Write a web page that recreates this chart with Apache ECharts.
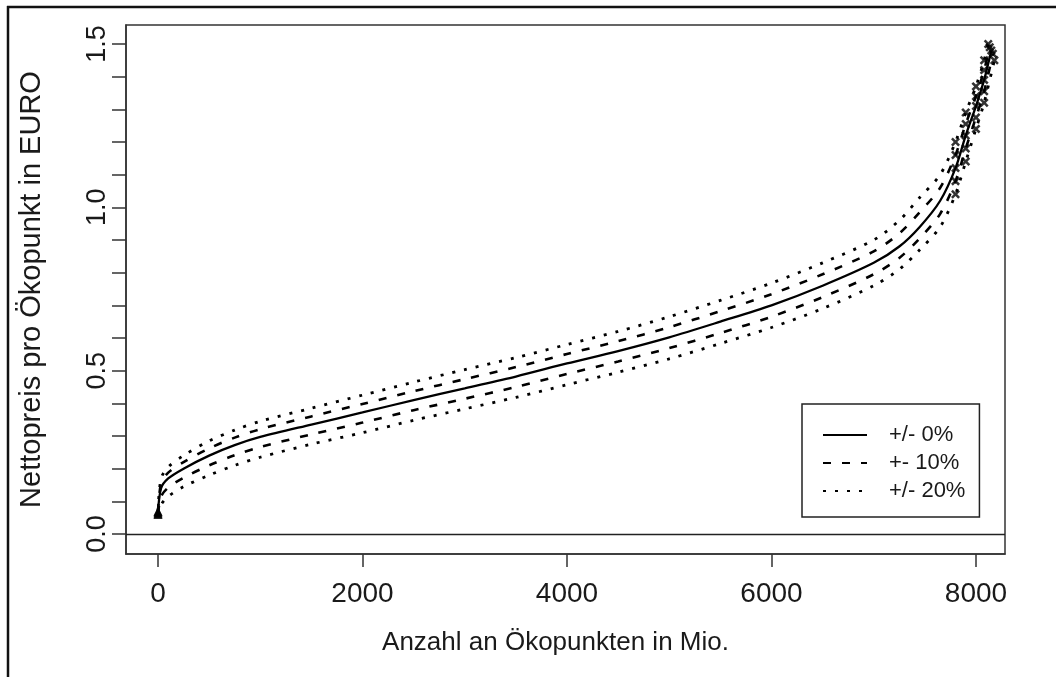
<!DOCTYPE html>
<html>
<head>
<meta charset="utf-8">
<script src="https://cdn.jsdelivr.net/npm/echarts@6/dist/echarts.min.js"></script>
<style>
html,body{margin:0;padding:0;background:#fff;}
#chart{width:1056px;height:677px;}
</style>
</head>
<body>
<div id="chart"></div>
<script>
// ---- data ----
const xTitle = 'Anzahl an Ökopunkten in Mio.';
const yTitle = 'Nettopreis pro Ökopunkt in EURO';
const xTicks = [0, 2000, 4000, 6000, 8000];
const yTicks = [0, 0.1, 0.2, 0.3, 0.4, 0.5, 0.6, 0.7, 0.8, 0.9, 1.0, 1.1, 1.2, 1.3, 1.4, 1.5];
const yLabels = [0, 0.5, 1.0, 1.5];
const legendNames = ['+/- 0%', '+- 10%', '+/- 20%'];

// solid: +/- 0%
const xMid  = [0, 30, 100, 250, 500, 750, 1000, 1500, 2000, 2500, 3000, 3500, 4000, 4500, 5000, 5500, 6000, 6500, 7000, 7250, 7450, 7650, 7800, 7900, 8000, 8080, 8150];
const yMid  = [0.065, 0.14, 0.17, 0.20, 0.24, 0.272, 0.297, 0.335, 0.372, 0.41, 0.446, 0.482, 0.522, 0.56, 0.602, 0.65, 0.70, 0.76, 0.83, 0.88, 0.94, 1.02, 1.12, 1.22, 1.31, 1.39, 1.48];
// dashed: +- 10%
const xUp10 = [0, 30, 100, 250, 500, 750, 1000, 1500, 2000, 2500, 3000, 3500, 4000, 4500, 5000, 5500, 6000, 6500, 7000, 7250, 7450, 7650, 7800, 7900, 8000, 8080, 8135];
const yUp10 = [0.068, 0.155, 0.188, 0.22, 0.262, 0.295, 0.321, 0.36, 0.398, 0.437, 0.474, 0.511, 0.551, 0.59, 0.633, 0.682, 0.734, 0.795, 0.865, 0.92, 0.985, 1.06, 1.16, 1.255, 1.34, 1.42, 1.49];
const xLo10 = [0, 30, 100, 250, 500, 750, 1000, 1500, 2000, 2500, 3000, 3500, 4000, 4500, 5000, 5500, 6000, 6500, 7000, 7250, 7450, 7650, 7800, 7900, 8000, 8080, 8165];
const yLo10 = [0.062, 0.115, 0.142, 0.172, 0.21, 0.241, 0.266, 0.305, 0.341, 0.379, 0.414, 0.45, 0.49, 0.528, 0.569, 0.615, 0.665, 0.725, 0.795, 0.845, 0.905, 0.98, 1.08, 1.18, 1.275, 1.355, 1.47];
// dotted: +/- 20%
const xUp20 = [0, 30, 100, 250, 500, 750, 1000, 1500, 2000, 2500, 3000, 3500, 4000, 4500, 5000, 5500, 6000, 6500, 7000, 7250, 7450, 7650, 7800, 7900, 8000, 8080, 8120];
const yUp20 = [0.07, 0.17, 0.205, 0.24, 0.285, 0.318, 0.345, 0.385, 0.425, 0.465, 0.503, 0.54, 0.58, 0.62, 0.665, 0.715, 0.768, 0.83, 0.9, 0.96, 1.03, 1.10, 1.20, 1.29, 1.37, 1.45, 1.50];
const xLo20 = [0, 30, 100, 250, 500, 750, 1000, 1500, 2000, 2500, 3000, 3500, 4000, 4500, 5000, 5500, 6000, 6500, 7000, 7250, 7450, 7650, 7800, 7900, 8000, 8080, 8180];
const yLo20 = [0.06, 0.09, 0.115, 0.145, 0.18, 0.21, 0.235, 0.275, 0.31, 0.348, 0.383, 0.418, 0.457, 0.495, 0.536, 0.583, 0.632, 0.69, 0.76, 0.81, 0.87, 0.94, 1.04, 1.14, 1.24, 1.32, 1.45];

const xMin = -313, xMax = 8284, yMin = -0.0612, yMax = 1.558;

// ---- build ----
const pair = (xs, ys) => xs.map((x, i) => [x, ys[i]]);
const FONT = '"Liberation Sans", Arial, sans-serif';
const TXT = '#1a1a1a';

const curves = [
  {name: legendNames[0], xs: xMid,  ys: yMid,  type: 'solid',  width: 2.3},
  {name: legendNames[1], xs: xUp10, ys: yUp10, type: [8, 11], width: 2.6},
  {name: legendNames[1], xs: xLo10, ys: yLo10, type: [8, 11], width: 2.6},
  {name: legendNames[2], xs: xUp20, ys: yUp20, type: [3, 9],  width: 2.8},
  {name: legendNames[2], xs: xLo20, ys: yLo20, type: [3, 9],  width: 2.8}
];

const crossPath = 'path://M2,0L5,3L8,0L10,2L7,5L10,8L8,10L5,7L2,10L0,8L3,5L0,2Z';

const series = [];
curves.forEach((c, idx) => {
  const s = {
    name: c.name,
    type: 'line',
    data: pair(c.xs, c.ys),
    smooth: 0.3,
    smoothConstraint: false,
    showSymbol: false,
    symbol: 'none',
    lineStyle: {color: '#000', width: c.width, type: c.type},
    itemStyle: {color: '#000'},
    z: 3
  };
  if (idx === 0) {
    s.markLine = {
      silent: true,
      symbol: 'none',
      label: {show: false},
      lineStyle: {color: '#222', width: 1.4, type: 'solid'},
      data: [{yAxis: 0}],
      animation: false
    };
  }
  series.push(s);
});
// start markers (triangles) and end markers (crosses) on each curve
curves.forEach(c => {
  const pts = pair(c.xs, c.ys);
  series.push({
    type: 'scatter', data: pts.slice(0, 1), symbol: 'triangle', symbolSize: 9,
    itemStyle: {color: '#000'}, silent: true, z: 4
  });
  series.push({
    type: 'scatter', data: pts.slice(-5), symbol: crossPath, symbolSize: 9,
    itemStyle: {color: '#000'}, silent: true, z: 4
  });
});

const chart = echarts.init(document.getElementById('chart'), null, {renderer: 'canvas'});
chart.setOption({
  animation: false,
  backgroundColor: '#fff',
  textStyle: {fontFamily: FONT},
  grid: {left: 126, top: 25, right: 51, bottom: 123, show: true, borderColor: '#333', borderWidth: 1.5, backgroundColor: 'transparent'},
  legend: {
    data: legendNames.map(n => ({name: n, itemStyle: {opacity: 0}})),
    orient: 'vertical',
    left: 802, top: 404,
    padding: [20, 14, 15, 20],
    itemGap: 6,
    itemWidth: 44, itemHeight: 14,
    borderColor: '#222', borderWidth: 1.5, borderRadius: 0,
    backgroundColor: '#fff',
    itemStyle: {opacity: 0},
    textStyle: {fontSize: 22, color: TXT, fontFamily: FONT, padding: [0, 0, 0, 17]},
    selectedMode: false
  },
  xAxis: {
    type: 'value', min: xMin, max: xMax,
    name: xTitle, nameLocation: 'middle', nameGap: 76,
    nameTextStyle: {fontSize: 26, color: TXT, fontFamily: FONT, padding: [0, 20, 0, 0]},
    axisLine: {show: true, onZero: false, lineStyle: {color: '#333', width: 1.5}},
    axisTick: {show: true, length: 13, lineStyle: {color: '#333', width: 1.5}, customValues: xTicks},
    axisLabel: {show: true, fontSize: 28, color: TXT, margin: 26, customValues: xTicks, fontFamily: FONT,
      formatter: v => String(v)},
    splitLine: {show: false}
  },
  yAxis: {
    type: 'value', min: yMin, max: yMax,
    name: yTitle, nameLocation: 'middle', nameGap: 80, nameRotate: 90,
    nameTextStyle: {fontSize: 29, color: TXT, fontFamily: FONT},
    axisLine: {show: true, onZero: false, lineStyle: {color: '#333', width: 1.5}},
    axisTick: {show: true, length: 14, lineStyle: {color: '#333', width: 1.5}, customValues: yTicks},
    axisLabel: {show: true, fontSize: 27, color: TXT, margin: 15, rotate: 90, customValues: yLabels,
      formatter: v => Number(v).toFixed(1), fontFamily: FONT},
    splitLine: {show: false}
  },
  graphic: [
    {type: 'line', shape: {x1: 7, y1: 7, x2: 1056, y2: 7}, style: {stroke: '#111', lineWidth: 2.5}, silent: true},
    {type: 'line', shape: {x1: 8, y1: 6, x2: 8, y2: 677}, style: {stroke: '#111', lineWidth: 2.5}, silent: true}
  ],
  series: series
});
</script>
</body>
</html>
